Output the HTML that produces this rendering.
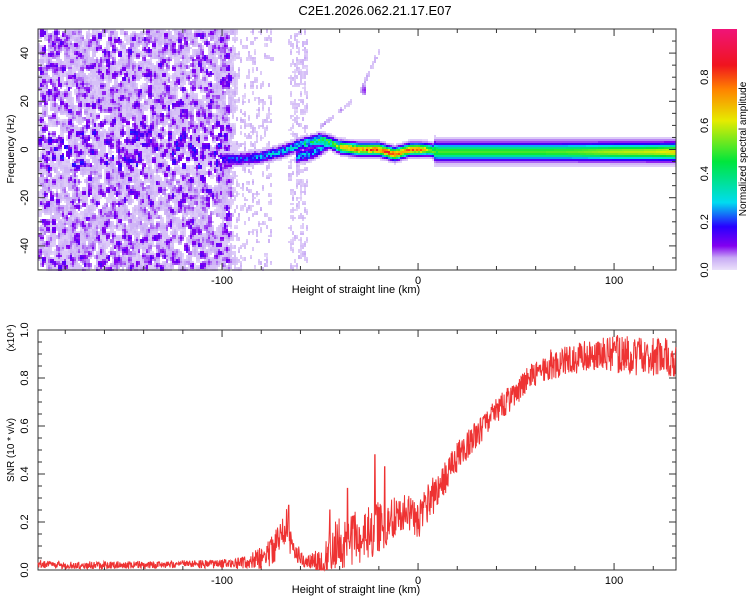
<!DOCTYPE html>
<html><head><meta charset="utf-8"><style>
body{margin:0;background:#fff;width:750px;height:600px;overflow:hidden;font-family:"Liberation Sans",sans-serif}
svg{position:absolute;left:0;top:0}
</style></head><body>
<svg id="chart" width="750" height="600" xmlns="http://www.w3.org/2000/svg">
<defs><linearGradient id="cg" x1="0" y1="1" x2="0" y2="0">
<stop offset="0" stop-color="rgb(235,225,250)"/><stop offset="0.05" stop-color="rgb(200,170,245)"/><stop offset="0.1" stop-color="rgb(130,0,240)"/><stop offset="0.18" stop-color="rgb(40,0,255)"/><stop offset="0.28" stop-color="rgb(0,220,240)"/><stop offset="0.45" stop-color="rgb(0,230,60)"/><stop offset="0.62" stop-color="rgb(230,235,0)"/><stop offset="0.75" stop-color="rgb(255,130,0)"/><stop offset="0.85" stop-color="rgb(240,20,30)"/><stop offset="1" stop-color="rgb(240,20,120)"/>
</linearGradient></defs>
<g id="heat"></g>
<rect x="712" y="29" width="25" height="241" fill="url(#cg)"/>
</svg>
<script>
// ---- data ----
const xTickLabels=[-100,0,100];
const specYTicks=[-40,-20,0,20,40];
const cbarTicks=[0,0.2,0.4,0.6,0.8];
const snrYTicks=[0,0.2,0.4,0.6,0.8,1.0];
const ridgeKm  =[-100,-90,-80,-70,-60,-55,-50,-45,-40,-30,-20,-16,-12,-8,-4,0,5,10,20,40,60,80,100,120,132];
const ridgeFreq=[-4,-4,-3,-1,2,3,4,3,1,0,0,-1,-2,-1,0,0,0,-1,-1,-1,-1,-1,-1,-1,-1];
const ridgeAmp =[0.22,0.28,0.32,0.35,0.4,0.5,0.55,0.6,0.7,0.8,0.85,0.85,0.88,0.8,0.8,0.85,0.6,0.5,0.5,0.5,0.5,0.52,0.58,0.6,0.65];
const branchKm  =[-62,-55,-50,-45];
const branchFreq=[-3,-2,0,3];
const diagKm  =[-50,-42,-35,-30,-25,-20];
const diagFreq=[10,15,20,24,33,42];
const snrKm=[-195,-180,-160,-140,-120,-100,-90,-85,-80,-75,-70,-67,-65,-60,-55,-50,-45,-40,-35,-30,-25,-20,-15,-10,-5,0,5,10,15,20,25,30,35,40,45,50,55,60,65,70,75,80,85,90,95,100,105,110,115,120,125,132];
const snrVal=[0.025,0.02,0.02,0.02,0.025,0.025,0.03,0.04,0.05,0.08,0.14,0.2,0.12,0.05,0.035,0.04,0.08,0.11,0.12,0.14,0.15,0.18,0.2,0.24,0.25,0.2,0.28,0.33,0.4,0.47,0.52,0.57,0.62,0.66,0.7,0.74,0.79,0.83,0.85,0.86,0.87,0.88,0.89,0.89,0.9,0.9,0.9,0.89,0.89,0.89,0.9,0.86];
const snrNoise=[0.01,0.01,0.01,0.01,0.01,0.012,0.015,0.02,0.03,0.04,0.05,0.05,0.04,0.02,0.02,0.04,0.06,0.07,0.07,0.07,0.07,0.07,0.06,0.05,0.05,0.05,0.05,0.05,0.04,0.04,0.04,0.04,0.035,0.035,0.035,0.035,0.035,0.04,0.04,0.04,0.04,0.04,0.04,0.04,0.045,0.05,0.05,0.05,0.05,0.05,0.05,0.05];
const spikeKm=[-36,-22,-17,-45,-66];
const spikeVal=[0.34,0.48,0.43,0.25,0.27];

// ---- scales ----
const X0=38,X1=676,KM0=-193.9,KM1=131.6;
function xs(k){return X0+(k-KM0)/(KM1-KM0)*(X1-X0);}
function fy(f){return 29+(50-f)/100*241;}
function sy(v){return 570-v*240;}
function cy(v){return 270-v*241;}
function sq(a){return a*a;}
function interp(xa,ya,x){if(x<=xa[0])return ya[0];for(let i=1;i<xa.length;i++){if(x<=xa[i]){const u=(x-xa[i-1])/(xa[i]-xa[i-1]);return ya[i-1]+u*(ya[i]-ya[i-1]);}}return ya[ya.length-1];}
let seed=12345;function rnd(){seed=(Math.imul(seed,1103515245)+12345)>>>0;return (seed>>>8)/16777216;}
const stops=[[0,235,225,250],[0.05,200,170,245],[0.1,130,0,240],[0.18,40,0,255],[0.28,0,220,240],[0.45,0,230,60],[0.62,230,235,0],[0.75,255,130,0],[0.85,240,20,30],[0.98,240,20,120]];
function cmap(v){if(v<=0)return[235,225,250];for(let i=1;i<stops.length;i++){if(v<=stops[i][0]){const a=stops[i-1],b=stops[i],u=(v-a[0])/(b[0]-a[0]);return[0,1,2].map(j=>Math.round(a[j+1]+u*(b[j+1]-a[j+1])));}}return stops[stops.length-1].slice(1);}

const NS='http://www.w3.org/2000/svg';
const svgRoot=document.getElementById('chart');
function el(tag,a,txt,parent){const e=document.createElementNS(NS,tag);for(const k in a)e.setAttribute(k,a[k]);if(txt!=null)e.textContent=txt;(parent||svgRoot).appendChild(e);return e;}

// ---- spectrogram field (2px cells) ----
const CW=2,CH=2,W=319,H=121;
const field=new Float32Array(W*H);
function addBlob(pxp,pyp,rxp,ryp,a){const px=pxp/CW,py=pyp/CH,rx=Math.max(0.8,rxp/CW),ry=Math.max(0.8,ryp/CH);
for(let y=Math.max(0,Math.floor(py-ry));y<=Math.min(H-1,Math.ceil(py+ry));y++)for(let x=Math.max(0,Math.floor(px-rx));x<=Math.min(W-1,Math.ceil(px+rx));x++){const d=sq((x-px)/rx)+sq((y-py)/ry);if(d<1){const i=y*W+x;field[i]=Math.max(field[i],a*(1-0.6*d));}}}
// light lavender background texture
for(let n=0;n<2000;n++){const k=KM0+rnd()*100;const f=-50+rnd()*100;addBlob(xs(k)-X0,fy(f)-29,2+rnd()*2,3+rnd()*3,0.02+rnd()*0.03);}
// purple dots
for(let n=0;n<1300;n++){const k=KM0+rnd()*98;const f=-50+rnd()*100;let a=0.07+Math.pow(rnd(),2)*0.09;if(Math.abs(f)<8)a*=1.4;addBlob(xs(k)-X0,fy(f)-29,2+rnd(),2.5+rnd()*1.5,a);}
for(let n=0;n<220;n++){const k=-66+rnd()*9;const f=-50+rnd()*100;addBlob(xs(k)-X0,fy(f)-29,1.5,2.5,0.02+rnd()*0.03);}
for(let n=0;n<250;n++){const k=-95+rnd()*20;const f=-50+rnd()*100;addBlob(xs(k)-X0,fy(f)-29,1.5,2.5,0.02+rnd()*0.03);}
for(let k=-50;k<=-20;k+=0.7){if(rnd()<0.5)continue;addBlob(xs(k)-X0,fy(interp(diagKm,diagFreq,k))-29,1.5,2.5,0.03+rnd()*0.04);}
addBlob(xs(-28)-X0,fy(25)-29,2,5,0.1);
for(let x=0;x<W;x++){const k=KM0+(x+0.5)*CW/(X1-X0)*(KM1-KM0);if(k<-100)continue;const c=interp(ridgeKm,ridgeFreq,k);const a=interp(ridgeKm,ridgeAmp,k);const w=k>8?3.0:2.0;
for(let y=0;y<H;y++){const f=50-(y+0.5)*CH/241*100;const df=f-c;let v=a*Math.exp(-sq(df/w));if(k>8&&Math.abs(df)<6.5)v=Math.max(v,Math.abs(df)<5?0.06:0.02);if(k<-40){v*=0.5+0.5*rnd();}else if(k<10&&v>0.5){v*=0.8+0.25*rnd();}
if(k>-62&&k<-45){const c2=interp(branchKm,branchFreq,k);v=Math.max(v,0.35*Math.exp(-sq((f-c2)/2))*(0.5+rnd()*0.5));}
const i=y*W+x;field[i]=Math.max(field[i],v);}}
const heat=document.getElementById('heat');
for(let y=0;y<H;y++){let x=0;while(x<W){const v=field[y*W+x];if(v<=0.012){x++;continue;}const q=Math.round(v*100);let e=x+1;while(e<W&&field[y*W+e]>0.012&&Math.round(field[y*W+e]*100)===q)e++;const c=cmap(q/100);
const r=el('rect',{x:X0+x*CW,y:29+y*CH,width:(e-x)*CW,height:CH,fill:'rgb('+c[0]+','+c[1]+','+c[2]+')'},null,heat);


x=e;}}

// ---- axes ----
const title=el('text',{x:375,y:15,'text-anchor':'middle','font-size':13},'C2E1.2026.062.21.17.E07');


function frame(top,bot,name){const r=el('rect',{x:X0,y:top,width:X1-X0,height:bot-top,fill:'none',stroke:'#333','stroke-width':1});


for(let k=-180;k<=120;k+=20){const x=xs(k),L=(k%100===0)?7:4;el('line',{x1:x,x2:x,y1:bot,y2:bot-L,stroke:'#333'});el('line',{x1:x,x2:x,y1:top,y2:top+L,stroke:'#333'});}
xTickLabels.forEach(k=>{const l=el('text',{x:xs(k),y:bot+14,'text-anchor':'middle','font-size':11},String(k));

});
const xl=el('text',{x:356,y:bot+23,'text-anchor':'middle','font-size':11},'Height of straight line (km)');

}
frame(29,270,'spectrogram-frame');frame(330,570,'snr-frame');
for(let f=-45;f<=45;f+=5){const y=fy(f),L=f%20===0?7:4;el('line',{x1:X0,x2:X0+L,y1:y,y2:y,stroke:'#333'});el('line',{x1:X1,x2:X1-L,y1:y,y2:y,stroke:'#333'});}
specYTicks.forEach(f=>{const l=el('text',{transform:'translate(28,'+fy(f)+') rotate(-90)','text-anchor':'middle','font-size':11},String(f));

});
let yl=el('text',{transform:'translate(14,149) rotate(-90)','text-anchor':'middle','font-size':10},'Frequency (Hz)');


for(let i=0;i<=20;i++){const v=i*0.05,y=sy(v),L=i%4===0?7:4;el('line',{x1:X0,x2:X0+L,y1:y,y2:y,stroke:'#333'});el('line',{x1:X1,x2:X1-L,y1:y,y2:y,stroke:'#333'});}
snrYTicks.forEach(v=>{const l=el('text',{transform:'translate(28,'+sy(v)+') rotate(-90)','text-anchor':'middle','font-size':11},v.toFixed(1));

});
yl=el('text',{transform:'translate(14,450) rotate(-90)','text-anchor':'middle','font-size':10},'SNR (10 * v/v)');


yl=el('text',{transform:'translate(14,338) rotate(-90)','text-anchor':'middle','font-size':10},'(x10\u2074)');


cbarTicks.forEach(v=>{const l=el('text',{transform:'translate(708,'+cy(v)+') rotate(-90)','text-anchor':'middle','font-size':11},v.toFixed(1));

});
yl=el('text',{transform:'translate(746,149) rotate(-90)','text-anchor':'middle','font-size':10},'Normalized spectral amplitude');


// SNR line
const pts=[];seed=999;
for(let k=KM0;k<=KM1;k+=0.2){let v=interp(snrKm,snrVal,k)+(rnd()*2-1)*interp(snrKm,snrNoise,k)*1.6;spikeKm.forEach((s,i)=>{if(Math.abs(k-s)<0.25)v=spikeVal[i];});v=Math.max(0,Math.min(1,v));pts.push(xs(k).toFixed(1)+','+sy(v).toFixed(1));}
const pl=el('polyline',{points:pts.join(' '),fill:'none',stroke:'#ee3333','stroke-width':1});


</script>
</body></html>
